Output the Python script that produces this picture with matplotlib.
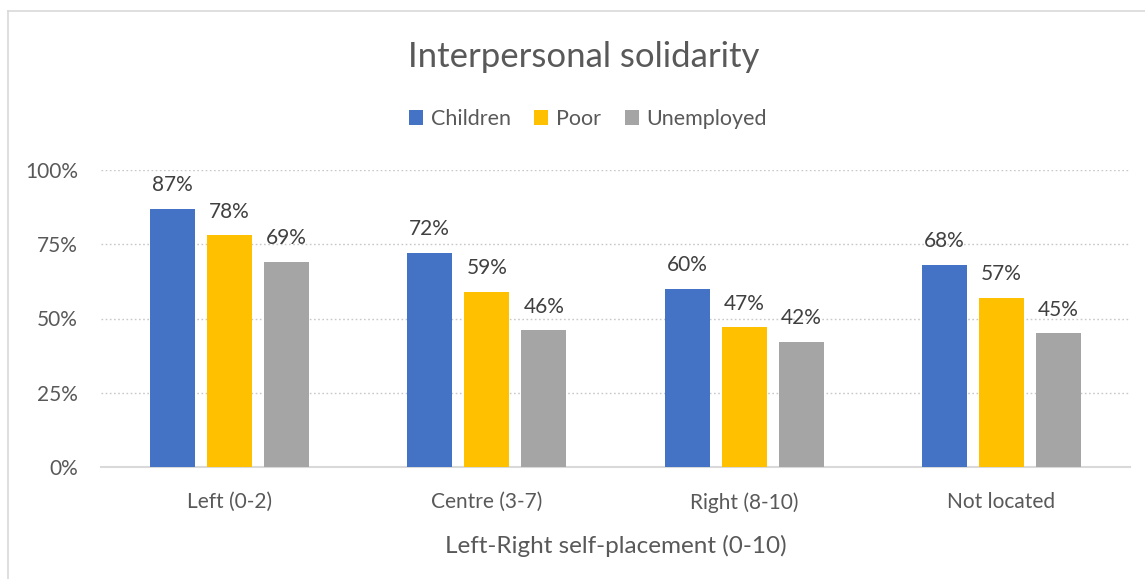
import matplotlib
matplotlib.use("Agg")
import matplotlib.pyplot as plt
from matplotlib.lines import Line2D
from matplotlib.patches import Patch
import numpy as np

categories = ["Left (0-2)", "Centre (3-7)", "Right (8-10)", "Not located"]
series_names = ["Children", "Poor", "Unemployed"]
children = [87, 72, 60, 68]
poor = [78, 59, 47, 57]
unemployed = [69, 46, 42, 45]
y_ticks = [0, 25, 50, 75, 100]
y_tick_labels = ["0%", "25%", "50%", "75%", "100%"]

colors = ["#4472C4", "#FFC000", "#A5A5A5"]
text_color = "#595959"
plt.rcParams["font.family"] = ["Lato", "DejaVu Sans"]

W, H = 1145, 579
fig = plt.figure(figsize=(W / 100, H / 100), dpi=100)
fig.patch.set_facecolor("white")

# plot area in pixel terms
left_px, right_px, top_px, bottom_px = 101, 1130, 170, 467
ax = fig.add_axes([left_px / W, 1 - bottom_px / H,
                   (right_px - left_px) / W, (bottom_px - top_px) / H])

x = np.arange(len(categories))
bar_w = 0.175
offset = 0.222
all_series = [children, poor, unemployed]
for i, (vals, name, c) in enumerate(zip(all_series, series_names, colors)):
    pos = x + (i - 1) * offset
    bars = ax.bar(pos, vals, width=bar_w, color=c, label=name, zorder=3)
    for b, v in zip(bars, vals):
        ax.text(b.get_x() + b.get_width() / 2, v + 8.0, f"{v}%",
                ha="center", va="center", fontsize=15, color="#404040")

ax.set_xlim(-0.5, len(categories) - 0.5)
ax.set_ylim(0, 100)
ax.set_yticks(y_ticks)
ax.set_yticklabels(y_tick_labels)
ax.set_xticks(x)
ax.set_xticklabels(categories)
ax.tick_params(axis="both", length=0, labelsize=15, colors=text_color)
ax.tick_params(axis="y", pad=16.5)
ax.tick_params(axis="x", pad=18)

for yv in y_ticks[1:]:
    ax.axhline(yv, color="#c8c8c8", lw=1.0, ls=(0, (1.2, 1.8)), zorder=1)
for s in ["top", "right", "left"]:
    ax.spines[s].set_visible(False)
ax.spines["bottom"].set_color("#d9d9d9")
ax.spines["bottom"].set_linewidth(1.5)

ax.set_xlabel("Left-Right self-placement (0-10)", fontsize=17.5,
              color=text_color, labelpad=16)

fig.text(584 / W, 1 - 57 / H, "Interpersonal solidarity", ha="center",
         va="center", fontsize=25, color=text_color)

handles = [Patch(facecolor=c, edgecolor="none") for c in colors]
fig.legend(handles, series_names, loc="center", bbox_to_anchor=(588 / W, 1 - 119 / H),
           ncol=3, frameon=False, fontsize=15.5, labelcolor=text_color,
           handlelength=0.65, handleheight=0.65, handletextpad=0.35,
           columnspacing=1.1)

# chart frame edges
fig.add_artist(Line2D([8 / W, 1], [1 - 11 / H, 1 - 11 / H], color="#d9d9d9", lw=1.2,
                      transform=fig.transFigure))
fig.add_artist(Line2D([8 / W, 8 / W], [0, 1 - 11 / H], color="#d9d9d9", lw=1.2,
                      transform=fig.transFigure))

fig.savefig("out.png", dpi=100, facecolor="white")
